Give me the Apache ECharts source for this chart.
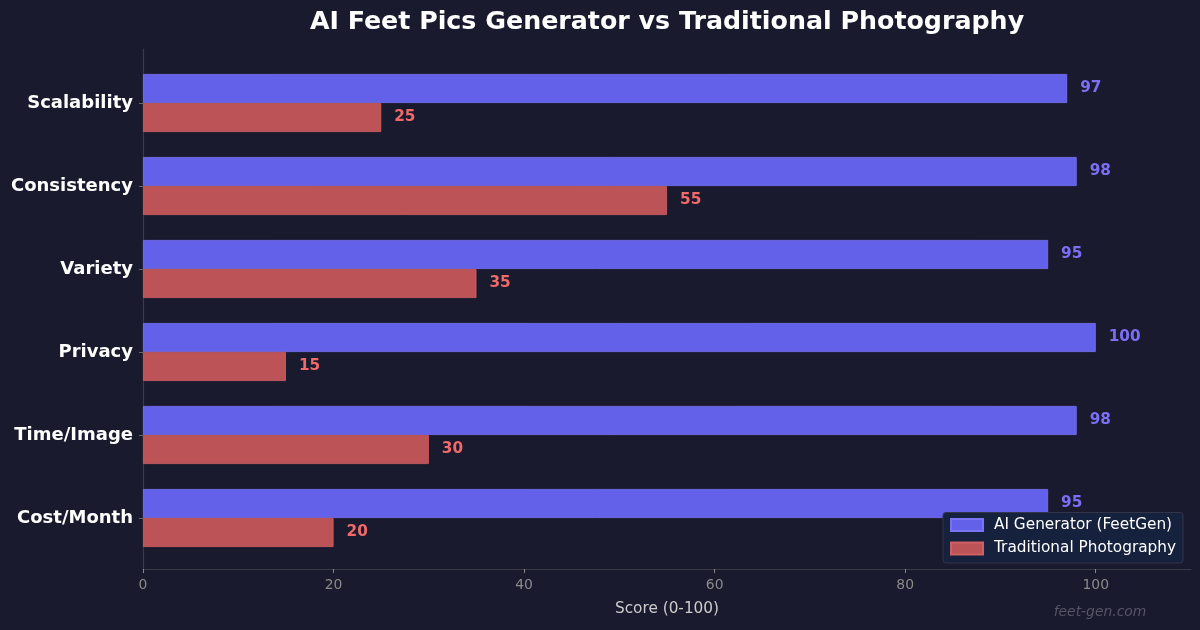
<!DOCTYPE html>
<html>
<head>
<meta charset="utf-8">
<script src="https://cdn.jsdelivr.net/npm/echarts@6/dist/echarts.min.js"></script>
<style>html,body{margin:0;padding:0;background:#1a1a2e;}#c{width:1200px;height:630px;}</style>
</head>
<body>
<div id="c"></div>
<script>
const categories = ['Scalability', 'Consistency', 'Variety', 'Privacy', 'Time/Image', 'Cost/Month'];
const aiScores = [97, 98, 95, 100, 98, 95];
const tradScores = [25, 55, 35, 15, 30, 20];
const xTicks = [0, 20, 40, 60, 80, 100];
const seriesNames = ['AI Generator (FeetGen)', 'Traditional Photography'];

const FONT = '"DejaVu Sans", sans-serif';
const chart = echarts.init(document.getElementById('c'), null, {renderer: 'canvas'});
chart.setOption({
  backgroundColor: '#1a1a2e',
  textStyle: {fontFamily: FONT},
  animation: false,
  grid: [
    {left: 143, right: 9, top: 49, bottom: 61, containLabel: false},
    {left: 143, right: 9, top: 61.5, height: 498, containLabel: false}
  ],
  xAxis: [
    {
      gridIndex: 0, type: 'value', min: 0, max: 110,
      axisLine: {show: true, lineStyle: {color: '#3a3a48', width: 1.2}},
      axisTick: {show: true, length: 4, lineStyle: {color: '#888'}, customValues: xTicks},
      axisLabel: {color: '#8a8a8a', fontSize: 13.9, margin: 9, fontFamily: FONT, customValues: xTicks},
      splitLine: {show: false},
      name: 'Score (0-100)', nameLocation: 'middle', nameGap: 33,
      nameTextStyle: {color: '#cccccc', fontSize: 15.3, fontFamily: FONT}
    },
    {
      gridIndex: 1, type: 'value', min: 0, max: 110, show: false
    }
  ],
  yAxis: [
    {
      gridIndex: 0, type: 'value', min: 0, max: 1,
      axisLine: {show: true, lineStyle: {color: '#3a3a48', width: 1.2}},
      axisTick: {show: false}, axisLabel: {show: false}, splitLine: {show: false}
    },
    {
      gridIndex: 1, type: 'category', data: categories, inverse: true,
      axisLine: {show: false},
      axisTick: {show: true, alignWithLabel: true, length: 4, lineStyle: {color: '#666'}},
      axisLabel: {color: '#ffffff', fontSize: 18, fontWeight: 'bold', margin: 10, fontFamily: FONT, padding: [9, 0, 0, 0]},
      splitLine: {show: false}
    }
  ],
  legend: {
    orient: 'vertical', right: 17, bottom: 67,
    backgroundColor: '#16213e', borderColor: '#33354a', borderWidth: 1, borderRadius: 3,
    padding: [5, 7, 7, 7], itemGap: 8.5, itemWidth: 32, itemHeight: 12, icon: 'rect',
    textStyle: {color: '#ffffff', fontSize: 15.3, fontFamily: FONT, padding: [0, 0, 0, 6]},
    data: seriesNames
  },
  series: [
    {
      name: seriesNames[0], type: 'bar', xAxisIndex: 1, yAxisIndex: 1,
      data: aiScores, barWidth: 29, barGap: '0%',
      itemStyle: {color: '#6360ea', borderColor: '#7a74f5', borderWidth: 0.8},
      label: {show: true, position: 'right', distance: 13, color: '#7b6ff5', fontSize: 15.3, fontWeight: 'bold', fontFamily: FONT, padding: [4, 0, 0, 0]}
    },
    {
      name: seriesNames[1], type: 'bar', xAxisIndex: 1, yAxisIndex: 1,
      data: tradScores, barWidth: 29, barGap: '0%',
      itemStyle: {color: '#bc5457', borderColor: '#d06064', borderWidth: 0.8},
      label: {show: true, position: 'right', distance: 13, color: '#f06a6a', fontSize: 15.3, fontWeight: 'bold', fontFamily: FONT, padding: [4, 0, 0, 0]}
    }
  ],
  graphic: [
    {type: 'text', silent: true, x: 667, y: 22,
     style: {text: 'AI Feet Pics Generator vs Traditional Photography', x: 0, y: 0, textAlign: 'center', textVerticalAlign: 'middle', fill: '#ffffff', fontSize: 25.3, fontWeight: 'bold', fontFamily: FONT}},
    {type: 'text', silent: true, x: 1100, y: 612,
     style: {text: 'feet-gen.com', x: 0, y: 0, textAlign: 'center', textVerticalAlign: 'middle', fill: '#555566', fontSize: 13.9, fontStyle: 'italic', fontFamily: FONT}}
  ]
});
</script>
</body>
</html>
